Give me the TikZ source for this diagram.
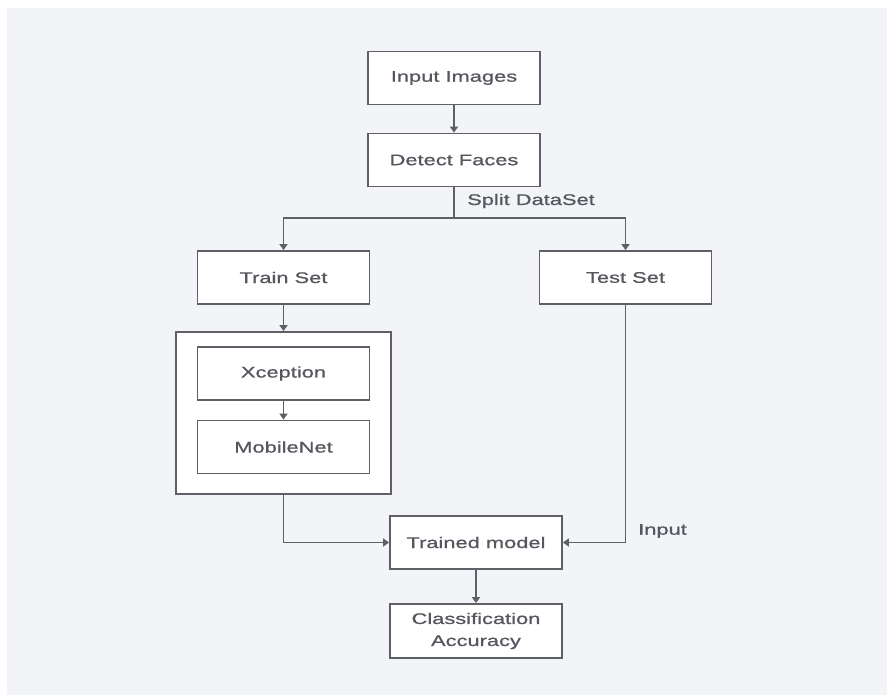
\documentclass[tikz,border=0pt]{standalone}
\usepackage{fontspec}
\setmainfont{Liberation Sans}[FakeStretch=1.42,FakeBold=0.8]
\usetikzlibrary{arrows.meta}
\definecolor{bgc}{HTML}{F3F4F8}
\definecolor{edgec}{HTML}{5E5F67}
\definecolor{txtc}{HTML}{55565E}
\tikzset{
  box/.style={draw=edgec, line width=1.8pt, fill=white, minimum width=172pt, minimum height=53pt, inner sep=0pt, align=center, text=txtc, font=\fontsize{15.4}{22}\selectfont},
  conn/.style={draw=edgec, line width=1.5pt},
  arr/.style={conn, -{Triangle[width=8pt,length=6pt]}},
  lbl/.style={text=txtc, font=\fontsize{15.4}{18}\selectfont, inner sep=0pt}
}
\begin{document}
\begin{tikzpicture}[x=1pt,y=-1pt]
\useasboundingbox (0,0) rectangle (887,695);
\fill[white] (0,0) rectangle (887,695);
\fill[bgc] (7,8) rectangle (887,695);
\node[box] (inp) at (454,78) {Input Images};
\node[box] (det) at (454,160) {Detect Faces};
\node[box] (train) at (283.5,277.5) {Train Set};
\node[box] (test) at (625.5,277.5) {Test Set};
\node[box, minimum width=215pt, minimum height=162pt] (grp) at (283.5,413) {};
\node[box] (xce) at (283.5,373.5) {Xception};
\node[box] (mob) at (283.5,447) {MobileNet};
\node[box] (trm) at (476,542.5) {Trained model};
\node[box, minimum height=54pt] (cls) at (476,631) {Classification\\Accuracy};
\coordinate (sp) at (454,218);
\node[lbl, anchor=west] (spl) at (467,201) {Split DataSet};
\node[lbl, anchor=west] (inl) at (638,531) {Input};
\draw[arr] (inp) -- (det);
\draw[conn] (det) -- (sp);
\draw[arr] (sp) -| (train.north);
\draw[arr] (sp) -| (test.north);
\draw[arr] (train) -- (grp);
\draw[arr] (xce) -- (mob);
\draw[arr] (grp.south) |- (trm.west);
\draw[arr] (test.south) |- (trm.east);
\draw[arr] (trm) -- (cls);
\end{tikzpicture}
\end{document}
